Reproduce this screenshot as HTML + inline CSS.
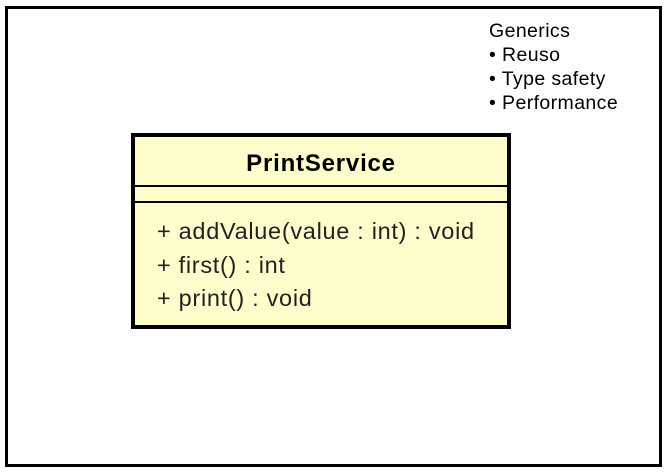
<!DOCTYPE html>
<html><head><style>
body{margin:0;width:665px;height:474px;background:#fff;position:relative;overflow:hidden;font-family:"Liberation Sans",Arial,sans-serif;}
.outer{position:absolute;left:5px;top:6px;width:651px;height:455px;border:3.5px solid #000;}
.note{position:absolute;left:489px;top:19px;font-size:19.5px;line-height:24px;color:#000;letter-spacing:0.4px;}
.cls{position:absolute;left:131px;top:133px;width:372px;height:188px;border:4px solid #000;background:#fefdcb;}
.name{position:absolute;left:0;right:0;top:13px;text-align:center;font-weight:bold;font-size:24px;letter-spacing:0.8px;}
.l{position:absolute;left:0;right:0;height:2px;background:#000;}
.m{position:absolute;left:22px;font-size:23.5px;color:#222;letter-spacing:0.7px;white-space:nowrap;}
</style></head><body>
<div class="outer"></div>
<div class="note">Generics<br>• Reuso<br>• Type safety<br>• Performance</div>
<div class="cls">
<div class="name">PrintService</div>
<div class="l" style="top:48px"></div>
<div class="l" style="top:64px"></div>
<div class="m" style="top:81px">+ addValue(value : int) : void</div>
<div class="m" style="top:115px">+ first() : int</div>
<div class="m" style="top:148px">+ print() : void</div>
</div>
</body></html>
